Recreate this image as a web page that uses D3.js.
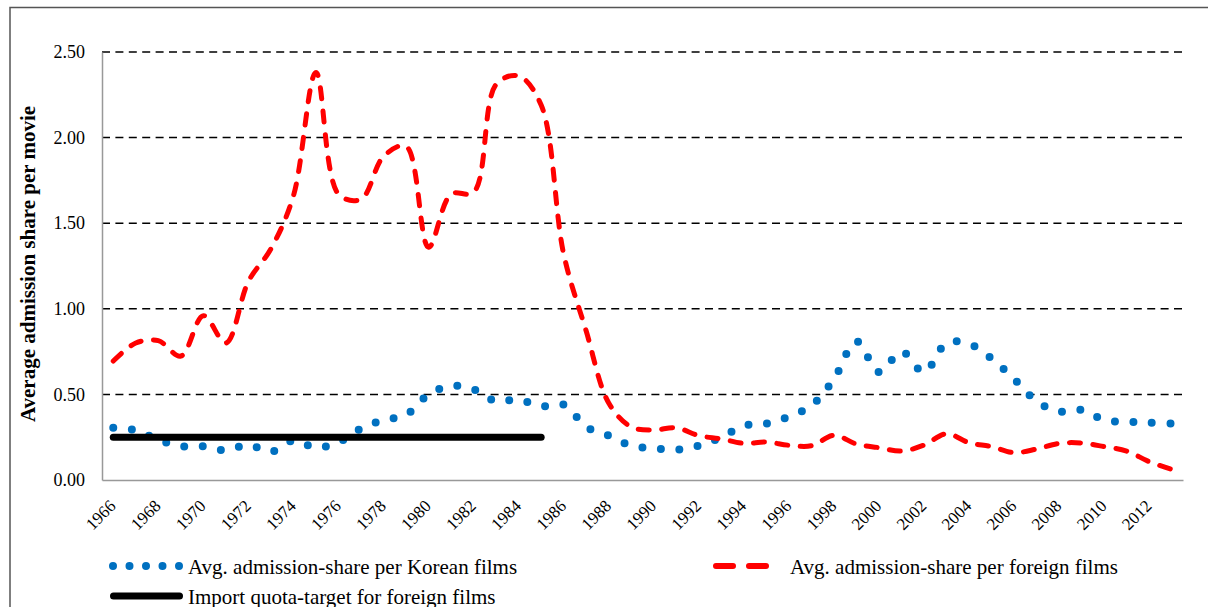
<!DOCTYPE html>
<html><head><meta charset="utf-8">
<script src="https://cdn.jsdelivr.net/npm/d3@7"></script>
<style>
body{margin:0;background:#fff}
svg{display:block}
text{font-family:"Liberation Serif","Times New Roman",serif;fill:#000}
</style>
</head><body><svg width="1208" height="607"></svg>
<script>
const years = [1966,1967,1968,1969,1970,1971,1972,1973,1974,1975,
  1976,1977,1978,1979,1980,1981,1982,1983,1984,1985,
  1986,1987,1988,1989,1990,1991,1992,1993,1994,1995,
  1996,1997,1998,1999,2000,2001,2002,2003,2004,2005,
  2006,2007,2008,2009,2010,2011,2012,2013];
const korean = [0.305,0.29,0.235,0.197,0.197,0.173,0.205,0.165,0.23,0.19,
  0.22,0.30,0.35,0.38,0.50,0.55,0.53,0.46,0.47,0.43,
  0.44,0.31,0.26,0.20,0.185,0.177,0.20,0.25,0.317,0.33,
  0.37,0.435,0.59,0.81,0.63,0.75,0.63,0.80,0.795,0.71,
  0.59,0.46,0.40,0.41,0.35,0.34,0.335,0.33];
const foreign = [0.695,0.80,0.814,0.724,0.96,0.80,1.16,1.35,1.66,2.38,
  1.67,1.64,1.89,1.95,1.36,1.67,1.68,2.31,2.36,2.19,
  1.32,0.87,0.45,0.31,0.292,0.305,0.259,0.24,0.214,0.222,
  0.203,0.20,0.261,0.21,0.189,0.169,0.204,0.27,0.218,0.195,
  0.16,0.181,0.214,0.216,0.195,0.169,0.107,0.062];
const quotaYears = [1966,1967,1968,1969,1970,1971,1972,1973,1974,1975,
  1976,1977,1978,1979,1980,1981,1982,1983,1984,1985];
const quota = [0.25,0.25,0.25,0.25,0.25,0.25,0.25,0.25,0.25,0.25,
  0.25,0.25,0.25,0.25,0.25,0.25,0.25,0.25,0.25,0.25];
const yTicks = [0,0.5,1,1.5,2,2.5];
const xTickLabels = [1966,1968,1970,1972,1974,1976,1978,1980,1982,1984,1986,1988,
  1990,1992,1994,1996,1998,2000,2002,2004,2006,2008,2010,2012];
const seriesNames = ["Avg. admission-share per Korean films",
  "Avg. admission-share per foreign films",
  "Import quota-target for foreign films"];
const yTitle = "Average admission share per movie";

const svg = d3.select("svg");
const L = 102, R = 1183, T = 52, B = 480;
const x = d3.scaleBand().domain(years).range([L, R]);
const xc = d => x(d) + x.bandwidth() / 2;
const y = d3.scaleLinear().domain([0, 2.5]).range([B, T]);
const FONT = '"Liberation Serif","Times New Roman",serif';

// outer border
svg.append("path").attr("d", "M10,620V7.5H1208")
  .attr("fill", "none").attr("stroke", "#555").attr("stroke-width", 1.5);

// gridlines
svg.append("g").selectAll("line").data(yTicks.filter(v => v > 0)).join("line")
  .attr("x1", L).attr("x2", R).attr("y1", d => y(d)).attr("y2", d => y(d))
  .attr("stroke", "#000").attr("stroke-width", 1.5).attr("stroke-dasharray", "8 5.4");

// y axis
const gy = svg.append("g").attr("transform", `translate(${L},0)`)
  .call(d3.axisLeft(y).tickValues(yTicks).tickFormat(d3.format(".2f")).tickSize(0).tickSizeOuter(0).tickPadding(17));
gy.attr("font-family", FONT).attr("font-size", 18);
gy.select(".domain").attr("stroke", "#999").attr("stroke-width", 1.5);

// x axis
const gx = svg.append("g").attr("transform", `translate(0,${B})`)
  .call(d3.axisBottom(x).tickValues(xTickLabels).tickSize(0).tickSizeOuter(0));
gx.attr("font-family", FONT).attr("font-size", 17);
gx.select(".domain").attr("stroke", "#999").attr("stroke-width", 1.5);
gx.selectAll("text").attr("x", 0).attr("y", 0).attr("dy", 0)
  .attr("text-anchor", "end").attr("transform", "translate(3.5,27) rotate(-45)");

// y title
svg.append("text").attr("transform", "translate(35,264) rotate(-90)")
  .attr("text-anchor", "middle").attr("font-weight", "bold").attr("font-size", 21)
  .text(yTitle);

const line = d3.line().x(d => xc(d[0])).y(d => y(d[1])).curve(d3.curveCatmullRom.alpha(0.5));

// Korean series (round dot)
svg.append("path").datum(years.map((yr, i) => [yr, korean[i]]))
  .attr("d", line).attr("fill", "none").attr("stroke", "#0070C0")
  .attr("stroke-width", 8).attr("stroke-linecap", "round").attr("stroke-dasharray", "0 18.5");

// foreign series (dash)
svg.append("path").datum(years.map((yr, i) => [yr, foreign[i]]))
  .attr("d", line).attr("fill", "none").attr("stroke", "#FF0000")
  .attr("stroke-width", 5).attr("stroke-linecap", "round").attr("stroke-dasharray", "11 12.5");

// quota
svg.append("path").datum(quotaYears.map((yr, i) => [yr, quota[i]]))
  .attr("d", d3.line().x(d => xc(d[0])).y(d => y(d[1]))).attr("fill", "none").attr("stroke", "#000")
  .attr("stroke-width", 7).attr("stroke-linecap", "round");

// legend
const lg = svg.append("g");
lg.append("line").attr("x1", 113).attr("x2", 179.01).attr("y1", 566).attr("y2", 566)
  .attr("stroke", "#0070C0").attr("stroke-width", 8).attr("stroke-linecap", "round").attr("stroke-dasharray", "0 16.5");
lg.append("text").attr("x", 188).attr("y", 574).attr("font-size", 21).text(seriesNames[0]);
lg.append("line").attr("x1", 716).attr("x2", 777).attr("y1", 566).attr("y2", 566)
  .attr("stroke", "#FF0000").attr("stroke-width", 6).attr("stroke-linecap", "round").attr("stroke-dasharray", "17 16");
lg.append("text").attr("x", 790).attr("y", 574).attr("font-size", 21).text(seriesNames[1]);
lg.append("line").attr("x1", 113.5).attr("x2", 179.5).attr("y1", 596).attr("y2", 596)
  .attr("stroke", "#000").attr("stroke-width", 7).attr("stroke-linecap", "round");
lg.append("text").attr("x", 188).attr("y", 603.5).attr("font-size", 21).text(seriesNames[2]);
</script>
</body></html>
